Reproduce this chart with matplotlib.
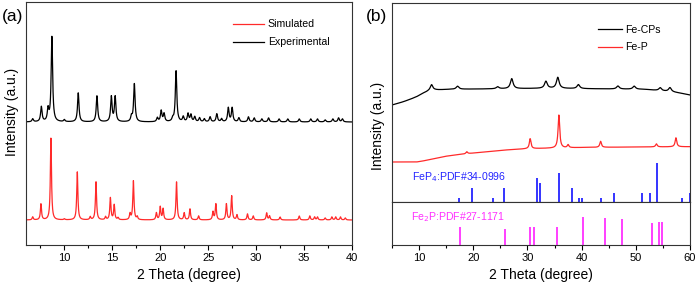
import numpy as np
import matplotlib
matplotlib.use('Agg')
import matplotlib.pyplot as plt
from matplotlib.ticker import MultipleLocator

plt.rcParams['font.family'] = ['Liberation Sans', 'DejaVu Sans']

# ---------------- data (a) ----------------
# experimental pattern: peak positions (deg), heights (a.u.)
exp_pos = [6.7, 7.6, 8.3, 8.7, 10.0, 11.45, 13.4, 14.9, 15.3, 17.0, 17.3, 19.7, 20.1, 20.4,
           21.3, 21.65, 22.4, 22.9, 23.2, 23.6, 24.1, 24.6, 25.2, 25.9, 26.4, 27.1, 27.5,
           28.2, 29.2, 29.8, 30.6, 31.3, 32.4, 33.3, 34.5, 35.7, 36.4, 37.2, 38.0, 38.6, 39.0]
exp_h = [3, 15, 12, 85, 2, 29, 26, 25, 25, 5, 38, 4, 11, 8,
         3, 51, 5, 8, 7, 5, 4, 3, 5, 8, 3, 14, 14,
         4, 5, 4, 3, 4, 3, 3, 3, 3, 3, 2, 3, 4, 3]
exp_base = 123

sim_pos = [6.7, 7.56, 8.6, 10.0, 11.35, 12.7, 13.3, 14.3, 14.8, 15.2, 15.6, 16.85, 17.2, 17.6,
           19.6, 20.0, 20.3, 21.7, 22.5, 23.1, 24.0, 25.5, 25.8, 26.9, 27.45, 28.0, 29.1,
           29.7, 31.1, 31.4, 32.5, 34.5, 35.6, 36.1, 36.4, 37.2, 37.9, 38.3, 38.8, 39.3]
sim_h = [3, 16, 82, 1, 48, 3, 38, 3, 22, 15, 2, 6, 39, 3,
         7, 13, 11, 38, 7, 11, 4, 8, 16, 16, 24, 5, 6,
         4, 7, 4, 3, 4, 4, 3, 3, 2, 3, 3, 3, 2]
sim_base = 25

# ---------------- data (b) ----------------
cps_bg_x = [5, 6, 7.1, 8.3, 9.55, 10.6, 11.7, 13, 15.7, 33.7, 51.6, 56.5, 58.3, 60]
cps_bg_y = [97, 98.5, 100.3, 102.6, 105.3, 108.5, 110.8, 112, 112.7, 113.7, 112.7, 110.3, 108.8, 107]
cps_pos = [12.3, 17.1, 24.5, 27.1, 33.4, 35.6, 39.4, 46.7, 49.7, 54.5, 56.3]
cps_h = [6, 3, 2, 10, 7, 11, 4, 3, 3, 3, 4]

fep_bg_x = [5, 9.5, 10.5, 12, 13.5, 15, 17, 19, 22, 26, 30, 40, 50, 60]
fep_bg_y = [40, 40, 40.8, 42.5, 44.3, 45.8, 47.2, 48.4, 50, 52, 53.3, 54.5, 55, 55.3]
fep_pos = [18.8, 30.5, 35.8, 37.5, 43.5, 53.8, 57.4]
fep_h = [2, 10, 33, 3, 6, 3, 9]

fep4_pos = [17.3, 19.7, 23.7, 25.6, 31.75, 32.4, 35.8, 38.15, 39.55, 40.1, 43.5, 46.0,
            51.1, 52.6, 53.9, 58.6, 60.0]
fep4_h = [3.7, 14, 3.7, 14, 24, 19, 29, 14, 3.7, 3.7, 3.7, 9.3, 9.3, 9.3, 39, 4, 9.3]

fe2p_pos = [17.55, 25.85, 30.45, 31.3, 35.4, 40.3, 44.3, 47.4, 53.0, 54.2, 54.75]
fe2p_h = [17.7, 16.3, 17.7, 17.7, 17.7, 28.3, 27, 26, 21.7, 23, 23]


def profile(x, pos, h, w):
    y = np.zeros_like(x)
    for p, a in zip(pos, h):
        y += a / (1 + ((x - p) / w) ** 2)
    return y


RED = '#ff2a2a'
BLUE = '#2424ff'
MAG = '#ff30ff'
LBL = 10
TCK = 8

fig = plt.figure(figsize=(7, 2.87), dpi=100)
fig.patch.set_facecolor('white')

# ---------------- panel (a) ----------------
axa = fig.add_axes([26 / 700, 42 / 287, 326 / 700, 243 / 287])
xa = np.linspace(6, 40, 3000)
axa.plot(xa, sim_base + profile(xa, sim_pos, sim_h, 0.07), color=RED, lw=0.9, label='Simulated')
axa.plot(xa, exp_base + profile(xa, exp_pos, exp_h, 0.09), color='black', lw=0.9, label='Experimental')
axa.set_xlim(6, 40)
axa.set_ylim(0, 243)
axa.set_yticks([])
axa.xaxis.set_major_locator(MultipleLocator(5))
axa.xaxis.set_minor_locator(MultipleLocator(2.5))
axa.tick_params(axis='x', which='major', length=3.5, width=0.8, labelsize=TCK, pad=2)
axa.tick_params(axis='x', which='minor', length=2, width=0.8)
axa.set_xlabel('2 Theta (degree)', fontsize=LBL, labelpad=4)
fig.text(12 / 700, 1 - 112 / 287, 'Intensity (a.u.)', fontsize=LBL, rotation=90,
         va='center', ha='center')
axa.legend(loc='upper left', bbox_to_anchor=(0.635, 0.928), frameon=False, fontsize=7.6,
           handlelength=2.9, handletextpad=0.4, labelspacing=0.75, borderpad=0, borderaxespad=0)
fig.text(2 / 700, 1 - 16 / 287, '(a)', fontsize=12.5, va='center', ha='left')

# ---------------- panel (b) ----------------
axb = fig.add_axes([392 / 700, 85 / 287, 298 / 700, 199 / 287])
axc = fig.add_axes([392 / 700, 42 / 287, 298 / 700, 43 / 287], sharex=axb)
xb = np.linspace(5, 60, 3000)
axb.plot(xb, np.interp(xb, cps_bg_x, cps_bg_y) + profile(xb, cps_pos, cps_h, 0.3),
         color='black', lw=0.9, label='Fe-CPs')
axb.plot(xb, np.interp(xb, fep_bg_x, fep_bg_y) + profile(xb, fep_pos, fep_h, 0.18),
         color=RED, lw=0.9, label='Fe-P')
axb.vlines(fep4_pos, 0, fep4_h, color=BLUE, lw=1.3)
axb.text(8.6, 25, 'FeP$_4$:PDF#34-0996', color=BLUE, fontsize=7.6, va='center')
axb.set_ylim(0, 199)
axb.set_yticks([])
axb.tick_params(axis='x', which='both', bottom=False, labelbottom=False)
axb.legend(loc='upper left', bbox_to_anchor=(0.69, 0.89), frameon=False, fontsize=7.6,
           handlelength=2.3, handletextpad=0.35, labelspacing=0.7, borderpad=0, borderaxespad=0)

axc.vlines(fe2p_pos, 0, fe2p_h, color=MAG, lw=1.3)
axc.text(8.5, 28, 'Fe$_2$P:PDF#27-1171', color=MAG, fontsize=7.6, va='center')
axc.set_xlim(5, 60)
axc.set_ylim(0, 43)
axc.set_yticks([])
axc.xaxis.set_major_locator(MultipleLocator(10))
axc.xaxis.set_minor_locator(MultipleLocator(5))
axc.tick_params(axis='x', which='major', length=3.5, width=0.8, labelsize=TCK, pad=2)
axc.tick_params(axis='x', which='minor', length=2, width=0.8)
axc.set_xlabel('2 Theta (degree)', fontsize=LBL, labelpad=4)
fig.text(378 / 700, 1 - 126 / 287, 'Intensity (a.u.)', fontsize=LBL, rotation=90,
         va='center', ha='center')
fig.text(366 / 700, 1 - 16 / 287, '(b)', fontsize=12.5, va='center', ha='left')

for ax in (axa, axb, axc):
    for s in ax.spines.values():
        s.set_linewidth(0.8)
        s.set_color('#333333')

fig.savefig('out.png', dpi=100, facecolor='white')
